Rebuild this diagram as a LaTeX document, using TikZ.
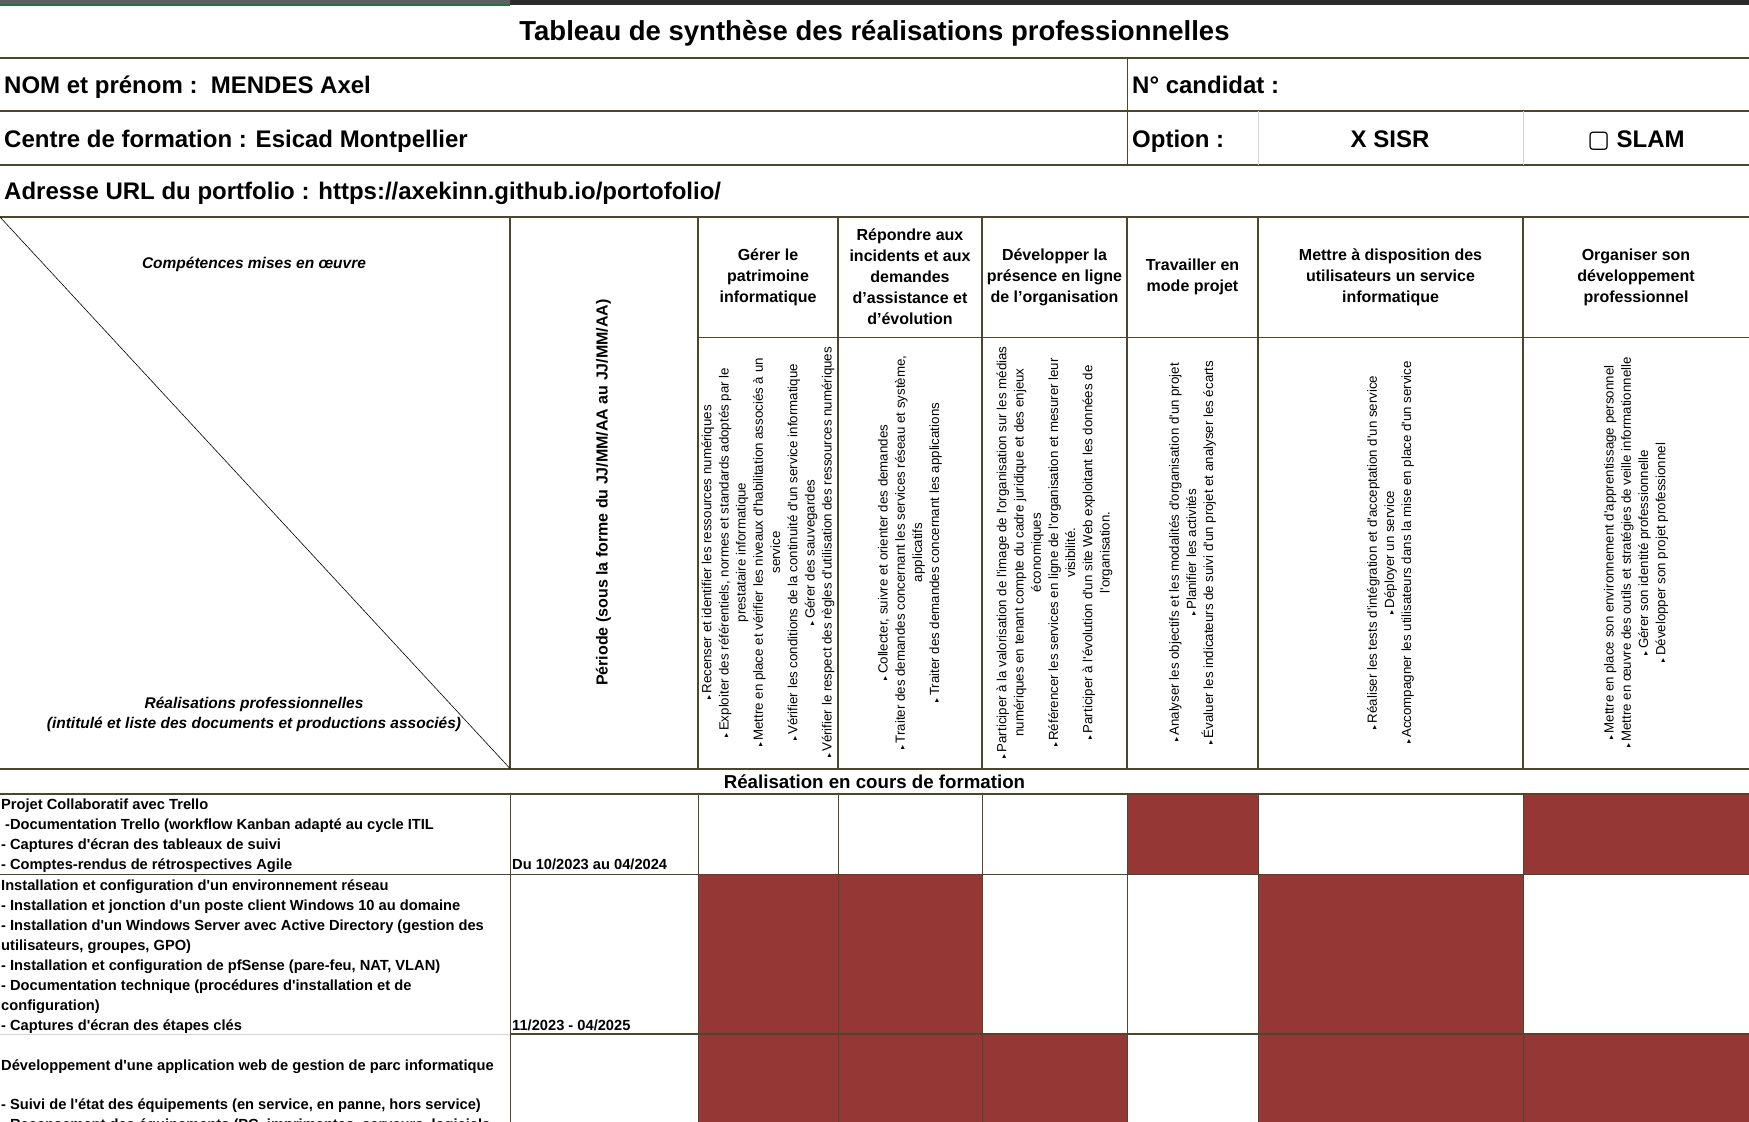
\documentclass[tikz,border=0pt]{standalone}
\usepackage{fontspec}
\newfontfamily\arial{Liberation Sans}
\newfontfamily\dejavu{DejaVu Sans}
\usepackage{xcolor}
\definecolor{grille}{RGB}{75,70,45}
\definecolor{gris}{RGB}{212,212,212}
\definecolor{rouge}{RGB}{149,55,53}
\definecolor{barre}{RGB}{95,95,95}
\definecolor{sombre}{RGB}{43,43,43}
\definecolor{vert}{RGB}{33,115,70}
\newcommand{\puce}{{\dejavu\fontsize{8}{8}\selectfont ▸}\,}

\begin{document}
\begin{tikzpicture}[x=1pt,y=-1pt,
  epais/.style={draw=grille, line width=2pt},
  moyen/.style={draw=grille, line width=1.5pt},
  fin/.style={draw=grille, line width=1pt},
  clair/.style={draw=gris, line width=1pt},
  titre/.style={font=\arial\bfseries\fontsize{27.5}{30}\selectfont, anchor=base, inner sep=0},
  ligne/.style={font=\arial\bfseries\fontsize{24}{28}\selectfont, anchor=base west, inner sep=0},
  entete/.style={font=\arial\bfseries\fontsize{16}{21}\selectfont, align=center, inner sep=0},
  diag/.style={font=\arial\bfseries\itshape\fontsize{15.5}{20}\selectfont, align=center, inner sep=0},
  liste/.style={font=\arial\fontsize{13.3}{17.2}\selectfont, align=center, rotate=90, inner sep=0},
  donnee/.style={font=\arial\bfseries\fontsize{14.67}{20}\selectfont, anchor=base west, inner sep=0}]
\useasboundingbox (0,0) rectangle (1749,1122);
\clip (0,0) rectangle (1749,1122);
\fill[white] (0,0) rectangle (1749,1122);
\fill[barre] (0,0) rectangle (510,3.5);
\fill[vert] (0,3.5) rectangle (510,5.5);
\fill[sombre] (510,0) rectangle (1749,4.5);

\foreach \xa/\xb/\ya/\yb in {1127/1258/794/874.5, 1523/1749/794/874.5,
  698/838/874.5/1034, 838/982/874.5/1034, 1258/1523/874.5/1034,
  698/838/1034/1122, 838/982/1034/1122, 982/1127/1034/1122, 1258/1523/1034/1122, 1523/1749/1034/1122}
  \fill[rouge] (\xa,\ya) rectangle (\xb,\yb);

\foreach \y in {58,111,165,217,768.5}
  \draw[epais] (0,\y) -- (1749,\y);
\draw[fin] (1127,58) -- (1127,165);
\draw[clair] (1258,111) -- (1258,165);
\draw[clair] (1523,111) -- (1523,165);
\foreach \x in {510,698,838,982,1127,1258,1523}
  \draw[moyen] (\x,217) -- (\x,768.5);
\draw[fin] (698,337) -- (1749,337);
\draw[black, line width=0.6pt] (0,217) -- (510,768.5);
\draw[moyen] (0,794) -- (1749,794);
\draw[moyen] (0,874.5) -- (1749,874.5);
\draw[clair] (0,1034) -- (510,1034);
\draw[moyen] (510,1034) -- (1749,1034);
\foreach \x in {510,698,838,982,1127,1258,1523}
  \draw[fin] (\x,794) -- (\x,1122);

\node[titre] (titre) at (874.5,40.5) {Tableau de synthèse des réalisations professionnelles};
\node[ligne] (nom) at (4,93.5) {NOM et prénom :\ \ MENDES Axel};
\node[ligne] (candidat) at (1132,93.5) {N° candidat :};
\node[ligne] (centre) at (4,147) {Centre de formation : Esicad Montpellier};
\node[ligne] (option) at (1132,147) {Option :};
\node[ligne, anchor=base] (sisr) at (1390,147) {X SISR};
\node[ligne, anchor=base] (slam) at (1636,147) {{\dejavu ▢} SLAM};
\node[ligne] (url) at (4,199.5) {Adresse URL du portfolio : https://axekinn.github.io/portofolio/};

\node[diag] (competences) at (254,264) {Compétences mises en œuvre};
\node[diag] (realisations) at (254,714) {Réalisations professionnelles\\(intitulé et liste des documents et productions associés)};
\node[entete, rotate=90] (periode) at (603.5,492.5) {Période (sous la forme du JJ/MM/AA au JJ/MM/AA)};

\node[entete] (gerer) at (768,277) {Gérer le\\patrimoine\\informatique};
\node[entete] (repondre) at (910,277) {Répondre aux\\incidents et aux\\demandes\\d’assistance et\\d’évolution};
\node[entete] (developper) at (1054.5,277) {Développer la\\présence en ligne\\de l’organisation};
\node[entete] (travailler) at (1192.5,277) {Travailler en\\mode projet};
\node[entete] (disposition) at (1390.5,277) {Mettre à disposition des\\utilisateurs un service\\informatique};
\node[entete] (organiser) at (1636,277) {Organiser son\\développement\\professionnel};

\node[liste] (lgerer) at (768,552.5) {\puce Recenser et identifier les ressources numériques\\
  \puce Exploiter des référentiels, normes et standards adoptés par le\\prestataire informatique\\
  \puce Mettre en place et vérifier les niveaux d'habilitation associés à un\\service\\
  \puce Vérifier les conditions de la continuité d'un service informatique\\
  \puce Gérer des sauvegardes\\
  \puce Vérifier le respect des règles d'utilisation des ressources numériques};
\node[liste] (lrepondre) at (910,552.5) {\puce Collecter, suivre et orienter des demandes\\
  \puce Traiter des demandes concernant les services réseau et système,\\applicatifs\\
  \puce Traiter des demandes concernant les applications};
\node[liste] (ldevelopper) at (1054.5,552.5) {\puce Participer à la valorisation de l'image de l'organisation sur les médias\\numériques en tenant compte du cadre juridique et des enjeux\\économiques\\
  \puce Référencer les services en ligne de l'organisation et mesurer leur\\visibilité.\\
  \puce Participer à l'évolution d'un site Web exploitant les données de\\l'organisation.};
\node[liste] (ltravailler) at (1192.5,552.5) {\puce Analyser les objectifs et les modalités d'organisation d'un projet\\
  \puce Planifier les activités\\
  \puce Évaluer les indicateurs de suivi d'un projet et analyser les écarts};
\node[liste] (ldisposition) at (1390.5,552.5) {\puce Réaliser les tests d'intégration et d'acceptation d'un service\\
  \puce Déployer un service\\
  \puce Accompagner les utilisateurs dans la mise en place d'un service};
\node[liste] (lorganiser) at (1636,552.5) {\puce Mettre en place son environnement d'apprentissage personnel\\
  \puce Mettre en œuvre des outils et stratégies de veille informationnelle\\
  \puce Gérer son identité professionnelle\\
  \puce Développer son projet professionnel};

\node[titre, font=\arial\bfseries\fontsize{18.7}{22}\selectfont] (formation) at (874.5,788) {Réalisation en cours de formation};

\foreach \txt [count=\i from 0] in {{Projet Collaboratif avec Trello},
  {\hspace{4pt}-Documentation Trello (workflow Kanban adapté au cycle ITIL},
  {- Captures d'écran des tableaux de suivi},
  {- Comptes-rendus de rétrospectives Agile}}
  \node[donnee] (trello\i) at (1,809+20*\i) {\txt};
\node[donnee] (ptrello) at (512,869) {Du 10/2023 au 04/2024};

\foreach \txt [count=\i from 0] in {{Installation et configuration d'un environnement réseau},
  {- Installation et jonction d'un poste client Windows 10 au domaine},
  {- Installation d'un Windows Server avec Active Directory (gestion des},
  {utilisateurs, groupes, GPO)},
  {- Installation et configuration de pfSense (pare-feu, NAT, VLAN)},
  {- Documentation technique (procédures d'installation et de},
  {configuration)},
  {- Captures d'écran des étapes clés}}
  \node[donnee] (reseau\i) at (1,890+20*\i) {\txt};
\node[donnee] (preseau) at (512,1030) {11/2023 - 04/2025};

\node[donnee] (parc0) at (1,1070) {Développement d'une application web de gestion de parc informatique};
\node[donnee] (parc1) at (1,1109.5) {- Suivi de l'état des équipements (en service, en panne, hors service)};
\node[donnee] (parc2) at (1,1129.5) {- Recensement des équipements (PC, imprimantes, serveurs, logiciels};
\end{tikzpicture}
\end{document}
